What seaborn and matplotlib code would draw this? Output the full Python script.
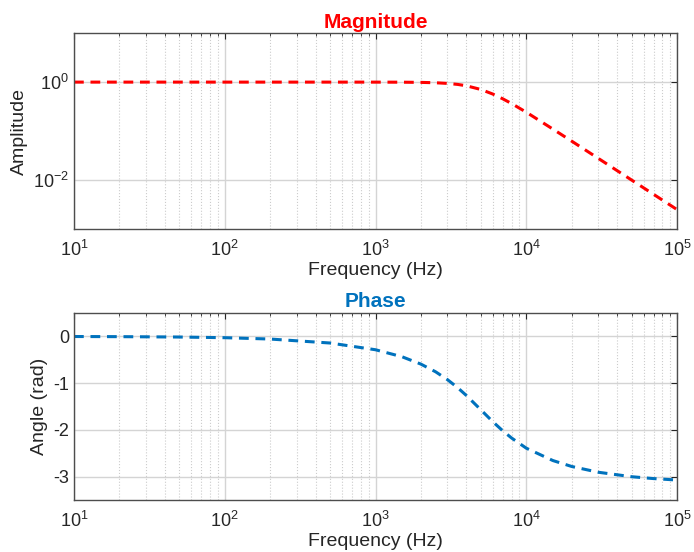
import matplotlib
matplotlib.use("Agg")
import matplotlib.pyplot as plt
import seaborn as sns
import pandas as pd
from matplotlib.ticker import LogLocator, NullLocator, LogFormatterSciNotation

# values
freq_hz = [10, 20, 50, 100, 200, 500, 1000, 1500, 2000, 2500, 3000, 3500, 4000,
           5000, 6000, 7000, 8000, 10000, 15000, 20000, 30000, 50000, 70000, 100000]
amplitude = [1.0, 1.0, 1.0, 1.0, 1.0, 1.0, 0.999, 0.996, 0.987, 0.970, 0.941, 0.898,
             0.842, 0.707, 0.570, 0.454, 0.364, 0.243, 0.110, 0.0624, 0.0278,
             0.0100, 0.0051, 0.0025]
angle_rad = [-0.003, -0.006, -0.014, -0.028, -0.057, -0.142, -0.286, -0.436, -0.593,
             -0.756, -0.925, -1.095, -1.262, -1.571, -1.825, -2.022, -2.174, -2.39,
             -2.654, -2.781, -2.904, -3.000, -3.040, -3.071]

MAG_COLOR = "#ff0000"
PHASE_COLOR = "#0072bd"

sns.set_theme(style="white")
plt.rcParams["font.family"] = ["Liberation Sans", "DejaVu Sans"]
plt.rcParams["mathtext.fontset"] = "custom"
plt.rcParams["mathtext.rm"] = "Liberation Sans"
plt.rcParams["mathtext.it"] = "Liberation Sans"
plt.rcParams["mathtext.default"] = "regular"
plt.rcParams["axes.unicode_minus"] = False

df = pd.DataFrame({"freq": freq_hz, "amp": amplitude, "angle": angle_rad})

fig = plt.figure(figsize=(6.94, 5.52), dpi=100)
ax1 = fig.add_axes([0.1066, 0.585, 0.869, 0.355])
ax2 = fig.add_axes([0.1066, 0.094, 0.869, 0.339])


def style_axes(ax):
    ax.set_xscale("log")
    ax.set_xlim(10, 1e5)
    ax.xaxis.set_major_locator(LogLocator(base=10, numticks=10))
    ax.xaxis.set_minor_locator(LogLocator(base=10, subs=range(2, 10), numticks=20))
    ax.xaxis.set_major_formatter(LogFormatterSciNotation())
    ax.grid(which="major", color="#d4d4d4", linestyle="-", linewidth=1.0)
    ax.grid(which="minor", axis="x", color="#cccccc", linestyle=":", linewidth=0.8)
    ax.set_axisbelow(True)
    for s in ax.spines.values():
        s.set_color("#4d4d4d")
        s.set_linewidth(1.0)
    ax.tick_params(which="both", direction="in", top=True, right=True,
                   colors="#262626", labelsize=13)
    ax.tick_params(which="major", length=4, width=0.8)
    ax.tick_params(which="minor", length=2.5, width=0.6)
    ax.tick_params(axis="x", which="major", pad=8)
    ax.set_xlabel("Frequency (Hz)", fontsize=14, color="#262626", labelpad=1)


sns.lineplot(data=df, x="freq", y="amp", ax=ax1, color=MAG_COLOR, linewidth=2.2)
ax1.lines[0].set_dashes([3.2, 2.2])
style_axes(ax1)
ax1.set_yscale("log")
ax1.set_ylim(1e-3, 1e1)
ax1.set_yticks([1e-2, 1e0])
ax1.yaxis.set_minor_locator(NullLocator())
ax1.yaxis.set_major_formatter(LogFormatterSciNotation())
ax1.set_ylabel("Amplitude", fontsize=14, color="#262626")
ax1.set_title("Magnitude", color=MAG_COLOR, fontsize=15, fontweight="bold", pad=4)

sns.lineplot(data=df, x="freq", y="angle", ax=ax2, color=PHASE_COLOR, linewidth=2.2)
ax2.lines[0].set_dashes([3.2, 2.2])
style_axes(ax2)
ax2.set_ylim(-3.5, 0.5)
ax2.set_yticks([-3, -2, -1, 0])
ax2.set_ylabel("Angle (rad)", fontsize=14, color="#262626")
ax2.set_title("Phase", color=PHASE_COLOR, fontsize=15, fontweight="bold", pad=4)

fig.savefig("out.png", dpi=100)
plt.close(fig)
